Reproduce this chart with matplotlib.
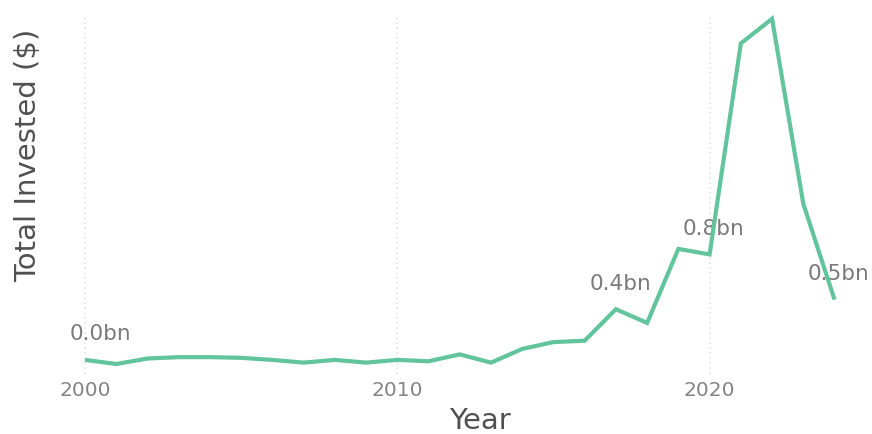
import matplotlib.pyplot as plt

# yearly totals, billions of dollars
years = list(range(2000, 2025))
invested_bn = [0.03, 0.00, 0.04, 0.05, 0.05, 0.045, 0.03, 0.01, 0.03, 0.01,
               0.03, 0.02, 0.07, 0.01, 0.11, 0.16, 0.17, 0.40, 0.30, 0.84,
               0.80, 2.34, 2.52, 1.17, 0.47]
label_years = [2000, 2017, 2020, 2024]
grid_years = [2000, 2010, 2020]

line_color = "#62c49c"
text_grey = "#7a7a7a"

fig = plt.figure(figsize=(8.72, 4.35), dpi=100)
ax = fig.add_axes([60 / 872, 60 / 435, 812 / 872, 360 / 435])

for gx in grid_years:
    ax.axvline(gx, color="#e4e4e4", lw=1.2, ls=(0, (1, 2)), zorder=0)

ax.plot(years, invested_bn, color=line_color, lw=3, solid_joinstyle="miter",
        solid_capstyle="butt", zorder=2)

for yr in label_years:
    val = invested_bn[years.index(yr)]
    dx = 11 if yr == years[0] else 3
    ax.annotate(f"{val:.1f}bn", (yr, val), xytext=(dx, 12),
                textcoords="offset points", ha="center", va="bottom",
                fontsize=15.5, color=text_grey, zorder=1)

ax.set_xlim(1999.2, 2025.2)
ax.set_ylim(-0.073, 2.555)
ax.set_xticks(grid_years)
ax.set_yticks([])
ax.tick_params(axis="x", length=0, labelsize=14.5, labelcolor="#858585", pad=4)
for side in ax.spines.values():
    side.set_visible(False)

ax.set_xlabel("Year", fontsize=21, color="#505050")
ax.set_ylabel("Total Invested ($)", fontsize=21, color="#505050")
ax.xaxis.set_label_coords(0.517, -0.09)
ax.yaxis.set_label_coords(-0.022, 0.61)

fig.savefig("out.png", dpi=100)
